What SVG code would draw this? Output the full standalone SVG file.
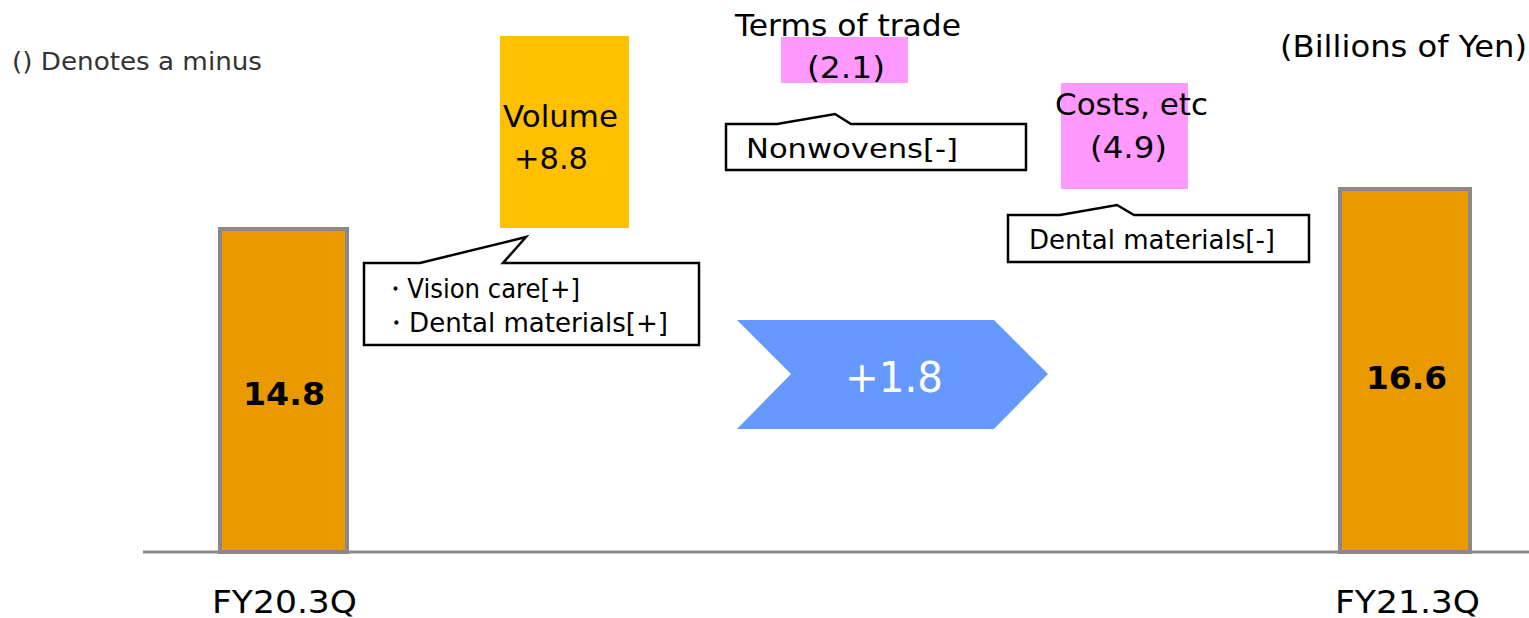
<svg xmlns="http://www.w3.org/2000/svg" width="1529" height="618" viewBox="0 0 1529 618">
<style>
text{font-family:"DejaVu Sans","Verdana",sans-serif;fill:#000}
.bar{fill:#E99A00;stroke:#898989;stroke-width:4}
.pink{fill:#FF99FF}
.call{fill:#fff;stroke:#000;stroke-width:2.5}
.t26{font-size:27px}
.t30{font-size:31px}
.t33{font-size:32px}
</style>
<rect width="1529" height="618" fill="#fff"/>
<g id="note"><text x="12" y="70" font-size="24" textLength="250" lengthAdjust="spacingAndGlyphs" style="fill:#333">() Denotes a minus</text></g>
<g id="unit"><text x="1280" y="57" class="t30" textLength="247" lengthAdjust="spacingAndGlyphs">(Billions of Yen)</text></g>
<g id="axis"><line x1="143" y1="552" x2="1529" y2="552" stroke="#898989" stroke-width="3"/></g>
<g id="bar-fy20">
<rect class="bar" x="220" y="229" width="127" height="323"/>
<text x="243" y="405" class="t33" font-weight="bold" textLength="82" lengthAdjust="spacingAndGlyphs">14.8</text>
<text x="212" y="613" class="t33" textLength="145" lengthAdjust="spacingAndGlyphs">FY20.3Q</text>
</g>
<g id="bar-fy21">
<rect class="bar" x="1340" y="189" width="130" height="363"/>
<text x="1366" y="389" class="t33" font-weight="bold" textLength="81" lengthAdjust="spacingAndGlyphs">16.6</text>
<text x="1335" y="613" class="t33" textLength="145" lengthAdjust="spacingAndGlyphs">FY21.3Q</text>
</g>
<g id="volume">
<rect x="500" y="36" width="129" height="192" fill="#FFC000"/>
<text x="503" y="127" class="t30" textLength="115" lengthAdjust="spacingAndGlyphs">Volume</text>
<text x="514" y="169" class="t30" textLength="74" lengthAdjust="spacingAndGlyphs">+8.8</text>
</g>
<g id="terms">
<rect class="pink" x="781" y="37" width="127" height="46"/>
<text x="735" y="36" class="t30" textLength="226" lengthAdjust="spacingAndGlyphs">Terms of trade</text>
<text x="807" y="78" class="t30" textLength="78" lengthAdjust="spacingAndGlyphs">(2.1)</text>
</g>
<g id="costs">
<rect class="pink" x="1061" y="83" width="127" height="106"/>
<text x="1055" y="115" class="t30" textLength="153" lengthAdjust="spacingAndGlyphs">Costs, etc</text>
<text x="1090" y="158" class="t30" textLength="77" lengthAdjust="spacingAndGlyphs">(4.9)</text>
</g>
<g id="callout-vision">
<path class="call" d="M364,263 H420 L526,237 L503,263 H699 V345 H364 Z"/>
<text x="383" y="298" class="t26" textLength="197" lengthAdjust="spacingAndGlyphs">・Vision care[+]</text>
<text x="383" y="332" class="t26" textLength="285" lengthAdjust="spacingAndGlyphs">・Dental materials[+]</text>
</g>
<g id="callout-nonwovens">
<path class="call" d="M726,124 H777 L835,114 L851,124 H1026 V170 H726 Z"/>
<text x="746" y="158" class="t26" textLength="212" lengthAdjust="spacingAndGlyphs">Nonwovens[-]</text>
</g>
<g id="callout-dental">
<path class="call" d="M1008,215 H1060 L1117,205 L1134,215 H1309 V262 H1008 Z"/>
<text x="1029" y="249" class="t26" textLength="246" lengthAdjust="spacingAndGlyphs">Dental materials[-]</text>
</g>
<g id="total">
<polygon points="737,320 994,320 1048,374 994,429 737,429 791,374" fill="#6699FF"/>
<text x="845" y="392" font-size="42" textLength="98" lengthAdjust="spacingAndGlyphs" style="fill:#fff">+1.8</text>
</g>
</svg>
